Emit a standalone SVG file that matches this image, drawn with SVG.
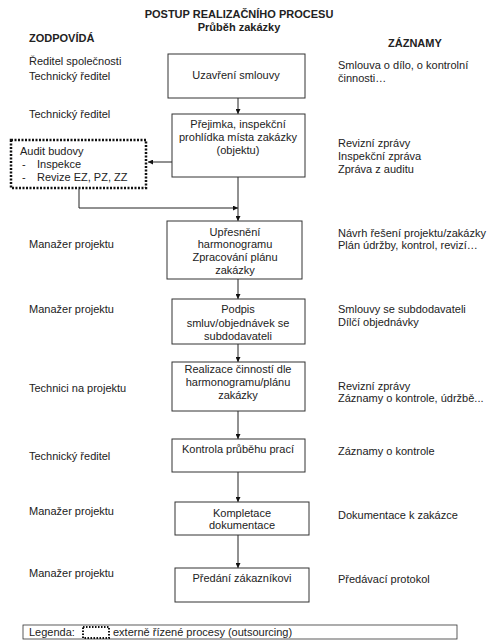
<svg xmlns="http://www.w3.org/2000/svg" width="500" height="644" viewBox="0 0 500 644">
<defs>
<style>
text{font-family:"Liberation Sans",Arial,sans-serif;font-size:11px;fill:#222}
.b{font-weight:bold}
.c{text-anchor:middle}
.box{fill:#fff;stroke:#333;stroke-width:1}
.dot{fill:#fff;stroke:#111;stroke-width:2.5;stroke-dasharray:2 1.5}
.ln{fill:none;stroke:#222;stroke-width:1}
</style>
<marker id="ah" viewBox="0 0 10 10" refX="10" refY="5" markerWidth="5" markerHeight="5" orient="auto" markerUnits="userSpaceOnUse">
<path d="M0,0 L10,5 L0,10 z" fill="#111"/>
</marker>
</defs>
<rect width="500" height="644" fill="#fff"/>
<g id="title">
<text class="b c" x="239" y="18">POSTUP REALIZAČNÍHO PROCESU</text>
<text class="b c" x="239" y="31">Průběh zakázky</text>
<text class="b" x="29" y="42">ZODPOVÍDÁ</text>
<text class="b" x="388" y="47">ZÁZNAMY</text>
</g>
<g id="connectors">
<line class="ln" x1="238" y1="98" x2="238" y2="114" marker-end="url(#ah)"/>
<line class="ln" x1="172" y1="162" x2="148" y2="162" marker-end="url(#ah)"/>
<polyline class="ln" points="79,189 79,208 238,208" marker-end="url(#ah)"/>
<line class="ln" x1="238" y1="177" x2="238" y2="221" marker-end="url(#ah)"/>
<line class="ln" x1="238" y1="279" x2="238" y2="299" marker-end="url(#ah)"/>
<line class="ln" x1="238" y1="344" x2="238" y2="362" marker-end="url(#ah)"/>
<line class="ln" x1="238" y1="411" x2="238" y2="439" marker-end="url(#ah)"/>
<line class="ln" x1="238" y1="472" x2="238" y2="502" marker-end="url(#ah)"/>
<line class="ln" x1="238" y1="535" x2="238" y2="568" marker-end="url(#ah)"/>
</g>
<g id="n1">
<text x="29" y="65">Ředitel společnosti</text>
<text x="29" y="80">Technický ředitel</text>
<rect class="box" x="168" y="54" width="137" height="44"/>
<text class="c" x="236" y="79">Uzavření smlouvy</text>
<text x="338" y="69">Smlouva o dílo, o kontrolní</text>
<text x="338" y="82">činnosti…</text>
</g>
<g id="n2">
<text x="29" y="118">Technický ředitel</text>
<rect class="box" x="172" y="114" width="133" height="63"/>
<text class="c" x="238" y="128">Přejimka, inspekční</text>
<text class="c" x="238" y="141">prohlídka místa zakázky</text>
<text class="c" x="238" y="154">(objektu)</text>
<text x="338" y="147">Revizní zprávy</text>
<text x="338" y="160">Inspekční zpráva</text>
<text x="338" y="173">Zpráva z auditu</text>
</g>
<g id="audit">
<rect class="dot" x="11" y="140" width="135" height="48"/>
<text x="20" y="155">Audit budovy</text>
<text x="22" y="168">-</text>
<text x="37" y="168">Inspekce</text>
<text x="22" y="181">-</text>
<text x="37" y="181">Revize EZ, PZ, ZZ</text>
</g>
<g id="n3">
<text x="29" y="248">Manažer projektu</text>
<rect class="box" x="167" y="221" width="135" height="58"/>
<text class="c" x="235" y="236">Upřesnění</text>
<text class="c" x="235" y="248">harmonogramu</text>
<text class="c" x="235" y="261">Zpracování plánu</text>
<text class="c" x="235" y="274">zakázky</text>
<text x="338" y="237">Návrh řešení projektu/zakázky</text>
<text x="338" y="249">Plán údržby, kontrol, revizí…</text>
</g>
<g id="n4">
<text x="29" y="313">Manažer projektu</text>
<rect class="box" x="172" y="299" width="133" height="45"/>
<text class="c" x="238" y="313">Podpis</text>
<text class="c" x="238" y="327">smluv/objednávek se</text>
<text class="c" x="238" y="340">subdodavateli</text>
<text x="338" y="313">Smlouvy se subdodavateli</text>
<text x="338" y="326">Dílčí objednávky</text>
</g>
<g id="n5">
<text x="29" y="392">Technici na projektu</text>
<rect class="box" x="172" y="362" width="133" height="49"/>
<text class="c" x="238" y="373">Realizace činností dle</text>
<text class="c" x="238" y="386">harmonogramu/plánu</text>
<text class="c" x="238" y="399">zakázky</text>
<text x="338" y="390">Revizní zprávy</text>
<text x="338" y="402">Záznamy o kontrole, údržbě...</text>
</g>
<g id="n6">
<text x="29" y="460">Technický ředitel</text>
<rect class="box" x="172" y="439" width="133" height="33"/>
<text class="c" x="238" y="453">Kontrola průběhu prací</text>
<text x="338" y="455">Záznamy o kontrole</text>
</g>
<g id="n7">
<text x="29" y="515">Manažer projektu</text>
<rect class="box" x="175" y="502" width="134" height="33"/>
<text class="c" x="242" y="517">Kompletace</text>
<text class="c" x="242" y="529">dokumentace</text>
<text x="338" y="519">Dokumentace k zakázce</text>
</g>
<g id="n8">
<text x="29" y="577">Manažer projektu</text>
<rect class="box" x="175" y="568" width="134" height="34"/>
<text class="c" x="242" y="582">Předání zákazníkovi</text>
<text x="338" y="583">Předávací protokol</text>
</g>
<g id="legend">
<rect x="23" y="625" width="434" height="14" fill="#fff" stroke="#333" stroke-width="0.8"/>
<text x="29" y="636">Legenda:</text>
<rect x="83" y="627" width="26" height="11" fill="#fff" stroke="#111" stroke-width="2" stroke-dasharray="1.5 1.5"/>
<text x="113" y="636">externě řízené procesy (outsourcing)</text>
</g>
</svg>
